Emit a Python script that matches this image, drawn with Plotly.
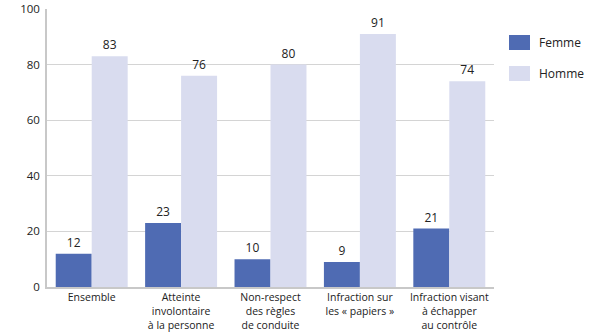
import plotly.graph_objects as go

categories = [
    "Ensemble",
    "Atteinte<br>involontaire<br>à la personne",
    "Non-respect<br>des règles<br>de conduite",
    "Infraction sur<br>les « papiers »",
    "Infraction visant<br>à échapper<br>au contrôle",
]
femme = [12, 23, 10, 9, 21]
homme = [83, 76, 80, 91, 74]
y_ticks = [0, 20, 40, 60, 80, 100]

series = [("Femme", femme, "#4f6bb3"), ("Homme", homme, "#d9dcef")]

FONT = "Open Sans, Noto Sans, sans-serif"
W, H = 595, 333
M = dict(l=47, r=101, t=9, b=46)

fig = go.Figure()
for name, vals, color in series:
    fig.add_trace(go.Bar(
        name=name, x=categories, y=vals,
        marker=dict(color=color, line=dict(width=0)),
        text=vals, textposition="outside", cliponaxis=False,
        textfont=dict(size=12, color="#222222", family=FONT),
        showlegend=False,
    ))

# Legend drawn as swatches + labels to the right of the plot area
pw = W - M["l"] - M["r"]
ph = H - M["t"] - M["b"]
def px_x(px):
    return (px - M["l"]) / pw
def px_y(py):
    return (H - M["b"] - py) / ph

for i, (name, _, color) in enumerate(series):
    cy = 42.5 + i * 31
    fig.add_shape(
        type="rect", xref="paper", yref="paper",
        x0=px_x(509), x1=px_x(530), y0=px_y(cy - 7.5), y1=px_y(cy + 7.5),
        fillcolor=color, line=dict(width=0),
    )
    fig.add_annotation(
        xref="paper", yref="paper", x=px_x(537), y=px_y(cy),
        xanchor="left", yanchor="middle", text=name, showarrow=False,
        font=dict(size=12, color="#222222", family=FONT),
    )

fig.update_layout(
    width=W, height=H, margin=M,
    barmode="group", bargap=0.195, bargroupgap=0,
    plot_bgcolor="white", paper_bgcolor="white",
    font=dict(family=FONT, size=11, color="#222222"),
    showlegend=False,
    xaxis=dict(
        showline=True, linecolor="#c8c8c8", linewidth=1.5,
        ticks="", tickfont=dict(size=10.5), automargin=False,
    ),
    yaxis=dict(
        range=[0, 100], tickvals=y_ticks,
        showgrid=True, gridcolor="#d4d4d4", gridwidth=1,
        showline=True, linecolor="#c8c8c8", linewidth=1.5,
        zeroline=False, ticks="", tickfont=dict(size=11.5),
        ticklabelstandoff=3, automargin=False,
    ),
)

fig.write_html("out.html")
